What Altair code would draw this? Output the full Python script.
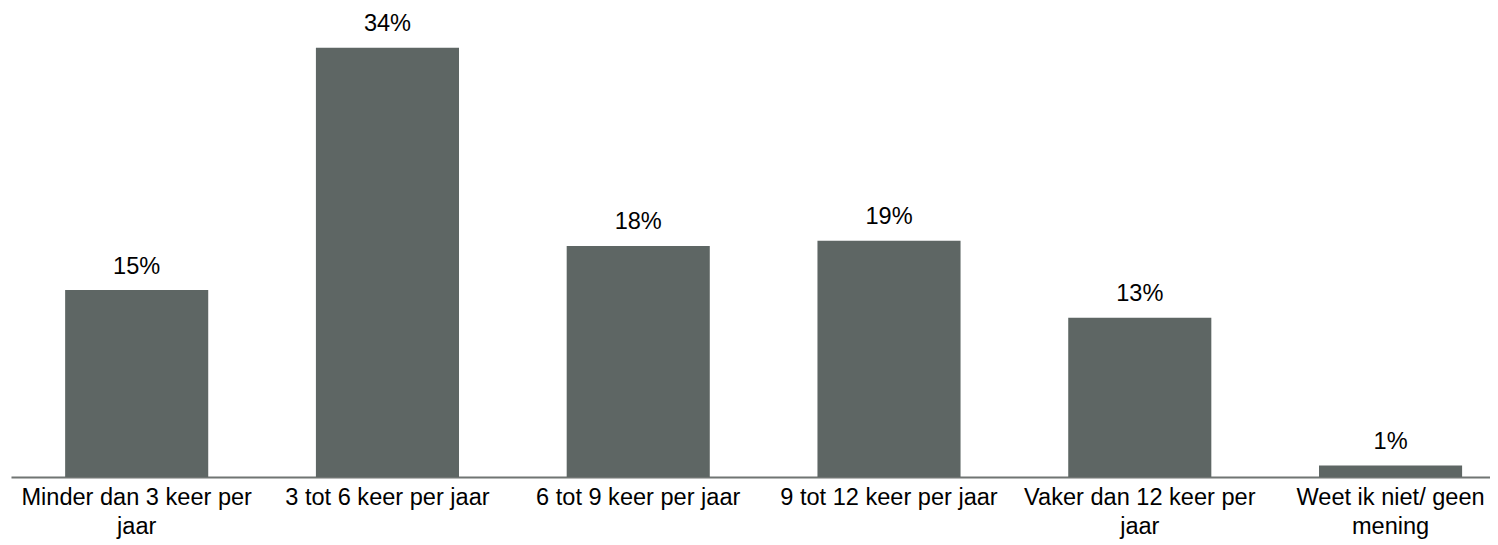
import altair as alt
import pandas as pd

categories = [
    "Minder dan 3 keer per\njaar",
    "3 tot 6 keer per jaar",
    "6 tot 9 keer per jaar",
    "9 tot 12 keer per jaar",
    "Vaker dan 12 keer per\njaar",
    "Weet ik niet/ geen\nmening",
]
values = [14.8, 34.0, 18.3, 18.7, 12.6, 0.9]
value_labels = ["15%", "34%", "18%", "19%", "13%", "1%"]

df = pd.DataFrame({"cat": categories, "val": values, "lab": value_labels})

FONT = "Liberation Sans"
FS = 23.7

x = alt.X(
    "cat:N",
    sort=categories,
    title=None,
    scale=alt.Scale(paddingInner=0.4294, paddingOuter=0.1636, align=0.66),
    axis=alt.Axis(
        labelAngle=0,
        labelExpr="split(datum.label, '\\n')",
        labelFont=FONT,
        labelFontSize=FS,
        labelColor="#000000",
        labelLineHeight=29.3,
        labelPadding=9,
        labelBaseline="top",
        ticks=False,
        tickSize=0,
        domainColor="#707573",
        domainWidth=2,
        labelLimit=400,
    ),
)
y = alt.Y("val:Q", scale=alt.Scale(domain=[0, 36], nice=False), axis=None)

bars = alt.Chart(df).mark_bar(color="#5e6664").encode(x=x, y=y)
text = alt.Chart(df).mark_text(
    font=FONT, fontSize=FS, color="#000000", baseline="alphabetic", dy=-16.5
).encode(x=x, y=y, text="lab:N")

chart = (
    alt.layer(bars, text)
    .properties(
        width=1487,
        height=457,
        padding={"left": 3, "top": 13, "right": 0, "bottom": 75},
        autosize=alt.AutoSizeParams(type="none"),
        background="white",
    )
    .configure_view(stroke=None)
)

chart.save("out.html", embed_options={"renderer": "svg", "actions": False})
